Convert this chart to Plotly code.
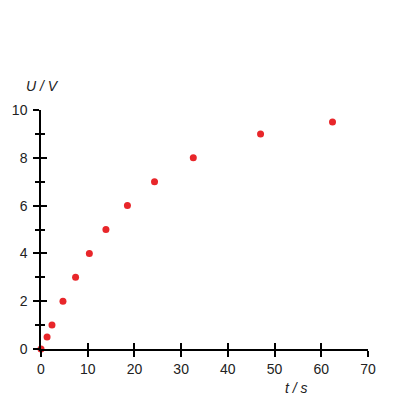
import plotly.graph_objects as go

t_s = [0, 1.3, 2.35, 4.7, 7.4, 10.35, 13.9, 18.5, 24.3, 32.6, 47.0, 62.4]
u_v = [0, 0.5, 1, 2, 3, 4, 5, 6, 7, 8, 9, 9.5]

x_ticks = [0, 10, 20, 30, 40, 50, 60, 70]
y_ticks = [0, 2, 4, 6, 8, 10]

font = dict(family="Liberation Sans, Arial, sans-serif", size=14, color="#222222")

fig = go.Figure()
fig.add_trace(go.Scatter(
    x=t_s, y=u_v, mode="markers",
    marker=dict(color="#e8262a", size=7),
    cliponaxis=False, showlegend=False,
))
# dummy trace so the overlaid axes get drawn (inside half of the crossing ticks)
fig.add_trace(go.Scatter(x=[None], y=[None], xaxis="x2", yaxis="y2", showlegend=False))

axis_common = dict(showgrid=False, zeroline=False, showline=True, automargin=False,
                   linecolor="black", linewidth=1.5, tickcolor="black", tickwidth=1.5)

# the page body adds ~8px, so margins are shifted to compensate
fig.update_layout(
    width=400, height=400,
    margin=dict(l=33, r=40, t=102, b=59),
    paper_bgcolor="white", plot_bgcolor="white",
    font=font,
    xaxis=dict(range=[0, 70], tickvals=x_ticks, ticks="outside", ticklen=6, **axis_common),
    yaxis=dict(range=[0, 10], tickvals=y_ticks, ticks="outside", ticklen=6, ticklabelstandoff=3,
               minor=dict(dtick=1, ticks="outside", ticklen=4, tickcolor="black", tickwidth=1.5),
               **axis_common),
    xaxis2=dict(range=[0, 70], tickvals=x_ticks, ticks="inside", ticklen=6,
                overlaying="x", showticklabels=False, **axis_common),
    yaxis2=dict(range=[0, 10], tickvals=y_ticks, ticks="inside", ticklen=6,
                minor=dict(dtick=1, ticks="inside", ticklen=4, tickcolor="black", tickwidth=1.5),
                overlaying="y", showticklabels=False, **axis_common),
    annotations=[
        dict(text="<i>U / V</i>", xref="paper", yref="paper", xanchor="center", yanchor="middle",
             x=(42 - 41) / 327, y=(349 - 86) / 239, showarrow=False, font=font),
        dict(text="<i>t / s</i>", xref="paper", yref="paper", xanchor="center", yanchor="middle",
             x=(296 - 41) / 327, y=(349 - 388) / 239, showarrow=False, font=font),
    ],
)

fig.write_html("out.html")
